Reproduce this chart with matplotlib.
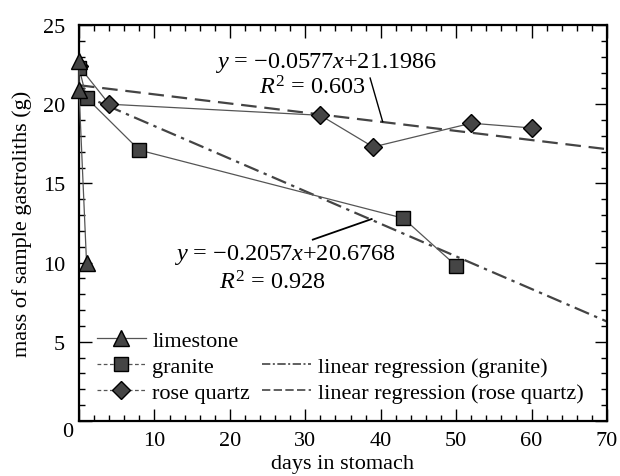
# Gastrolith mass loss - mass vs. days in stomach with linear regressions

import matplotlib
matplotlib.use('Agg')
import matplotlib.pyplot as plt
from matplotlib.lines import Line2D
from matplotlib.ticker import MultipleLocator
from numpy import array

# ---------- DATA ----------
limestone_days = [0, 0, 1]
limestone_mass = [22.7, 20.9, 10.0]

granite_days = [0, 1, 8, 43, 50]
granite_mass = [22.3, 20.4, 17.1, 12.8, 9.8]

quartz_days = [0, 4, 32, 39, 52, 60]
quartz_mass = [22.4, 20.0, 19.3, 17.3, 18.8, 18.5]

# regression coefficients (slope, intercept) as printed on the chart
granite_fit = (-0.2057, 20.6768)
quartz_fit = (-0.0577, 21.1986)
fit_days = array([0, 70])

# ---------- PLOTTING ----------
plt.rcParams['font.family'] = ['Liberation Serif', 'DejaVu Serif']
plt.rcParams['mathtext.fontset'] = 'custom'
plt.rcParams['mathtext.rm'] = 'Liberation Serif'
plt.rcParams['mathtext.it'] = 'Liberation Serif:italic'
plt.rcParams['font.size'] = 16

fig = plt.figure(figsize=(6.2, 4.77), dpi=100)
ax = fig.add_axes([0.1274, 0.1153, 0.8516, 0.8302])

fill = '#454545'
conn = '#555555'
reg = '#444444'

ax.plot(fit_days, granite_fit[0] * fit_days + granite_fit[1], color=reg, lw=1.6,
        dashes=(7, 2.5, 1.5, 2.5), zorder=2)
ax.plot(fit_days, quartz_fit[0] * fit_days + quartz_fit[1], color=reg, lw=1.6,
        dashes=(7, 3.5), zorder=2)

mk = dict(markerfacecolor=fill, markeredgecolor='black', markeredgewidth=1.0, color=conn, lw=0.9)
ax.plot(quartz_days, quartz_mass, marker='D', markersize=9, zorder=3, **mk)
ax.plot(granite_days, granite_mass, marker='s', markersize=9.5, zorder=4, **mk)
ax.plot(limestone_days, limestone_mass, marker='^', markersize=11, zorder=5, clip_on=False, **mk)

# annotations
eq_size = 17.5
ax.text(32.7, 22.66, '$y$ = \u22120.0577$x$+21.1986', ha='center', va='center', fontsize=eq_size)
ax.text(31.0, 21.09, '$R^2$ = 0.603', ha='center', va='center', fontsize=eq_size)
ax.plot([38.6, 40.26], [21.65, 18.9], color='black', lw=1.0)

ax.text(27.3, 10.54, '$y$ = \u22120.2057$x$+20.6768', ha='center', va='center', fontsize=eq_size)
ax.text(25.65, 8.78, '$R^2$ = 0.928', ha='center', va='center', fontsize=eq_size)
ax.plot([31.0, 38.8], [11.45, 12.75], color='black', lw=1.3)

# ---------- GRAPH OPTIONS ----------
ax.set_xlim(0, 70)
ax.set_ylim(0, 25)
ax.xaxis.set_major_locator(MultipleLocator(10))
ax.xaxis.set_minor_locator(MultipleLocator(2))
ax.yaxis.set_major_locator(MultipleLocator(5))
ax.yaxis.set_minor_locator(MultipleLocator(1))
ax.tick_params(which='both', direction='in', top=True, right=True, width=1.0)
ax.tick_params(which='major', length=9)
ax.tick_params(which='minor', length=4.5)
ax.tick_params(axis='y', pad=10)
ax.tick_params(axis='x', pad=7)
ax.set_xticks(range(0, 71, 10), [''] + [str(v) for v in range(10, 71, 10)])
ax.set_yticks(range(0, 26, 5), [''] + [str(v) for v in range(5, 26, 5)])
ax.text(-0.021, -0.027, '0', transform=ax.transAxes, ha='center', va='center')
for s in ax.spines.values():
    s.set_linewidth(1.6)

ax.set_xlabel('days in stomach', labelpad=3)
ax.set_ylabel('mass of sample gastroliths (g)', labelpad=8)

# legend (second column starts one row lower)
h_lime = Line2D([], [], marker='^', markersize=11, **mk)
h_gran = Line2D([], [], marker='s', markersize=9.5, ls=(0, (3, 2)), **mk)
h_quar = Line2D([], [], marker='D', markersize=9, ls=(0, (3, 2)), **mk)
h_blank = Line2D([], [], ls='none')
h_rg = Line2D([], [], color=reg, lw=1.2, dashes=(5, 1.5, 1.2, 1.5))
h_rq = Line2D([], [], color=reg, lw=1.2, dashes=(5, 2))
ax.legend([h_lime, h_gran, h_quar, h_blank, h_rg, h_rq],
          ['limestone', 'granite', 'rose quartz', '', 'linear regression (granite)',
           'linear regression (rose quartz)'],
          ncol=2, loc='lower left', bbox_to_anchor=(0.0, 0.0), frameon=False,
          handlelength=2.2, handletextpad=0.3, columnspacing=0.55, labelspacing=0.25,
          borderaxespad=0.4)

fig.savefig('out.png', dpi=100)
